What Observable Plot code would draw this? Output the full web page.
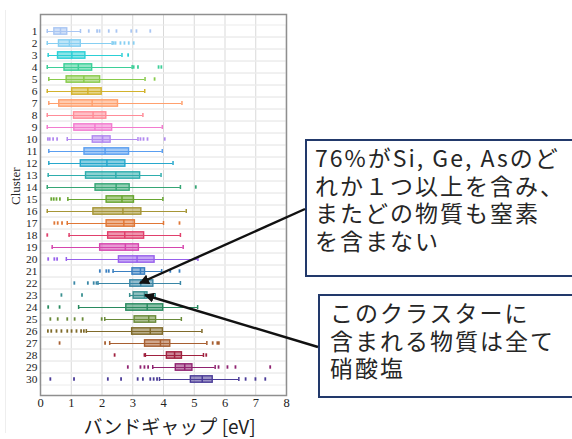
<!DOCTYPE html>
<html><head><meta charset="utf-8">
<script src="https://cdn.jsdelivr.net/npm/d3@7"></script>
<script src="https://cdn.jsdelivr.net/npm/@observablehq/plot@0.6"></script>
<style>
body{margin:0;background:#fff;}
#wrap{position:relative;width:572px;height:439px;overflow:hidden;}
#wrap svg{display:block;}
.note{position:absolute;border:2px solid #22396b;background:#fff;font-family:"Noto Sans CJK JP","Noto Sans CJK SC",sans-serif;font-size:23px;line-height:27.5px;color:#262626;letter-spacing:2px;box-sizing:border-box;white-space:nowrap;}
#overlay{position:absolute;left:0;top:0;pointer-events:none;}
</style></head><body><div id="wrap"></div>
<script>
// ---- data (band gap, eV) ----
const clusters = d3.range(1, 31);
const lo  = [0.22,0.22,0.25,0.22,0.27,0.22,0.27,0.22,0.22,0.87, 0.27,0.27,0.25,0.22,0.89,0.22,0.87,0.93,0.38,0.84, 2.36,1.87,2.90,1.24,2.09,1.49,2.25,3.41,3.65,3.87];
const q1  = [0.45,0.60,0.57,0.78,0.85,1.03,0.61,1.09,1.10,1.70, 1.43,1.31,1.48,1.79,2.15,1.72,2.15,2.20,1.94,2.55, 2.99,2.92,3.03,2.79,3.06,2.98,3.40,4.11,4.40,4.89];
const med = [0.65,0.94,1.02,1.23,1.41,1.54,1.68,1.71,1.77,2.02, 2.10,2.16,2.45,2.46,2.65,2.68,2.71,2.74,2.76,3.14, 3.25,3.26,3.38,3.47,3.52,3.57,3.90,4.36,4.69,5.26];
const q3  = [0.87,1.31,1.46,1.68,1.94,1.99,2.52,2.14,2.33,2.28, 2.88,2.76,3.24,2.90,3.04,3.28,3.07,3.37,3.20,3.71, 3.40,3.67,3.48,3.99,3.76,3.98,4.22,4.60,4.94,5.60];
const hi  = [1.30,2.33,2.65,2.98,3.40,3.39,4.60,3.33,3.96,3.17, 3.96,4.31,3.92,4.55,3.98,4.74,4.00,4.55,4.64,5.12, 3.94,4.55,3.73,5.11,4.58,5.25,5.41,5.30,5.68,6.45];
const outliers = [
  [1.57,1.84,1.92,2.22,2.47,2.95,3.12,3.57],
  [2.38,2.44,2.60,2.73,2.87,3.03],
  [2.85],
  [3.03,3.17,3.84,3.93],
  [3.71],
  [],
  [],
  [],
  [],
  [0.24,0.30,0.41,0.54,3.25,3.35,3.48,4.04],
  [],
  [],
  [],
  [5.05],
  [0.35,0.43,0.52,0.63],
  [],
  [0.45,0.56,0.70,4.52],
  [0.22],
  [],
  [0.25,0.45,0.54],
  [1.93,2.14,2.22,4.22,4.52],
  [1.10,1.54,1.73,1.82],
  [0.68,1.35],
  [0.25,0.62],
  [0.32,0.56,0.87,1.11,1.37,1.99],
  [0.24,0.35,0.52,0.68,0.87,1.01,1.17,1.32,1.41],
  [0.62,2.10,5.60,5.75,5.80],
  [2.41,3.38,5.39],
  [2.84,3.25,3.38,3.50,5.79,6.08,6.34,7.47],
  [0.32,1.09,2.19,2.62,3.16,3.33,3.57,3.68,3.79,6.67,6.99,7.31]
];
const xTicks = [0,1,2,3,4,5,6,7,8];
const palette = ["#a9c6f3","#86cff2","#2ccfd6","#3dcf98","#89cb4c","#d2b22c","#ffa06e","#ff8c98","#f27ccf","#b289f0",
                 "#5a9ef0","#27a8cc","#2eadad","#36a675","#68a631","#a69636","#e07736","#e0406c","#d546ae","#9860ec",
                 "#3a7fc0","#3a87a6","#3a9090","#298a5f","#698a38","#7f6a29","#a75f31","#a0213f","#8f2270","#4a3b98"];
const xLabel = "バンドギャップ [eV]";
const yLabel = "Cluster";
const notes = [
  {cluster: 22, value: 3.25, lines: ["76%がSi, Ge, Asのど","れか１つ以上を含み、","またどの物質も窒素","を含まない"]},
  {cluster: 23, value: 3.41, lines: ["このクラスターに","含まれる物質は全て","硝酸塩"]}
];

// ---- tables ----
const rows = clusters.map((c, i) => ({cluster: c, lo: lo[i], q1: q1[i], med: med[i], q3: q3[i], hi: hi[i]}));
const caps = rows.flatMap(r => [{cluster: r.cluster, v: r.lo}, {cluster: r.cluster, v: r.hi}]);
const outl = clusters.flatMap((c, i) => outliers[i].map(v => ({cluster: c, v})));

const serif = "'Liberation Serif','DejaVu Serif',serif";

const plot = Plot.plot({
  width: 572,
  height: 439,
  marginLeft: 40,
  marginRight: 286,
  marginTop: 14,
  marginBottom: 44,
  style: {background: "#fff", overflow: "visible"},
  x: {domain: [0, 8]},
  y: {type: "band", domain: clusters, padding: 0},
  color: {type: "ordinal", domain: clusters, range: palette},
  marks: [
    Plot.gridX(xTicks, {stroke: "#d9d9d9", strokeOpacity: 1, strokeWidth: 1}),
    Plot.barX(rows, {y: "cluster", x1: 0, x2: 8, fill: "none", stroke: "#ececec", strokeWidth: 1}),
    Plot.ruleY(rows, {y: "cluster", x1: "lo", x2: "hi", stroke: "cluster", strokeWidth: 1.2}),
    Plot.barX(rows, {y: "cluster", x1: "q1", x2: "q3", fill: "cluster", fillOpacity: 0.55, stroke: "cluster", strokeWidth: 1.4, insetTop: 2.8, insetBottom: 2.8}),
    Plot.tickX(rows, {y: "cluster", x: "med", stroke: "cluster", strokeWidth: 1.5, insetTop: 2.8, insetBottom: 2.8}),
    Plot.tickX(caps, {y: "cluster", x: "v", stroke: "cluster", strokeWidth: 1.5, insetTop: 4, insetBottom: 4}),
    Plot.tickX(outl, {y: "cluster", x: "v", stroke: "cluster", strokeWidth: 1.8, insetTop: 4.3, insetBottom: 4.3}),
    Plot.frame({stroke: "#8f8f8f", strokeWidth: 1.5}),
    Plot.axisY({tickSize: 0, tickPadding: 3, label: null, fontFamily: serif, fontSize: 11.4, fill: "#222"}),
    Plot.axisX(xTicks, {tickSize: 0, tickPadding: 3, label: null, fontFamily: serif, fontSize: 12.5, fill: "#222"}),
    Plot.text([yLabel], {frameAnchor: "left", rotate: -90, dx: -25, fontFamily: serif, fontSize: 13, fill: "#222"}),
    Plot.text([xLabel], {frameAnchor: "bottom", dy: 38, dx: 6, fontFamily: "'Noto Sans CJK JP',sans-serif", fontSize: 19, fill: "#222"})
  ]
});

const wrap = document.getElementById("wrap");
wrap.appendChild(plot);

const sx = plot.scale("x"), sy = plot.scale("y");
const bw = sy.bandwidth;

// ---- annotation boxes ----
const boxes = [
  {left: 305, top: 139, width: 280, height: 138, pad: "3px 0 0 8px", from: [305, 209]},
  {left: 318, top: 294, width: 270, height: 104, pad: "3px 0 0 10px", from: [318, 347]}
];
notes.forEach((n, i) => {
  const b = boxes[i];
  const d = document.createElement("div");
  d.className = "note";
  Object.assign(d.style, {left: b.left + "px", top: b.top + "px", width: b.width + "px", height: b.height + "px", padding: b.pad});
  d.innerHTML = n.lines.map(l => `<div>${l}</div>`).join("");
  wrap.appendChild(d);
});

// ---- arrows ----
const ov = d3.select(wrap).append("svg").attr("id", "overlay").attr("width", 572).attr("height", 439);
ov.append("defs").append("marker")
  .attr("id", "ah").attr("viewBox", "0 0 10 10").attr("refX", 9).attr("refY", 5)
  .attr("markerWidth", 4.2).attr("markerHeight", 4.2).attr("orient", "auto")
  .append("path").attr("d", "M0,0 L10,5 L0,10 z").attr("fill", "#111");
notes.forEach((n, i) => {
  const b = boxes[i];
  const tx = sx.apply(n.value), ty = sy.apply(n.cluster) + bw / 2;
  ov.append("line")
    .attr("x1", b.from[0]).attr("y1", b.from[1]).attr("x2", tx).attr("y2", ty)
    .attr("stroke", "#111").attr("stroke-width", 2.4).attr("marker-end", "url(#ah)");
});
ov.append("line").attr("x1", 5.5).attr("y1", 10).attr("x2", 5.5).attr("y2", 433).attr("stroke", "#eeeeee");
</script>
</body></html>
